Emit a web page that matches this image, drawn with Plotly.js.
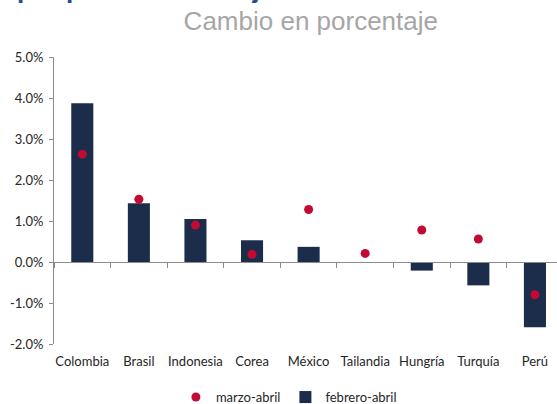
<!DOCTYPE html>
<html>
<head>
<meta charset="utf-8">
<script src="https://cdn.plot.ly/plotly-3.0.1.min.js"></script>
<style>html,body{margin:0;padding:0;background:#fff;}#chart{width:557px;height:404px;}</style>
</head>
<body>
<div id="chart"></div>
<script>
const categories = ["Colombia", "Brasil", "Indonesia", "Corea", "México", "Tailandia", "Hungría", "Turquía", "Perú"];
const febreroAbril = [3.87, 1.43, 1.05, 0.53, 0.37, 0.0, -0.21, -0.57, -1.59];
const marzoAbril = [2.63, 1.53, 0.90, 0.19, 1.28, 0.21, 0.78, 0.56, -0.80];
const yTickVals = [-2, -1, 0, 1, 2, 3, 4, 5];
const yTickText = ["-2.0%", "-1.0%", "0.0%", "1.0%", "2.0%", "3.0%", "4.0%", "5.0%"];

const font = "Lato, 'Open Sans', sans-serif";

const traces = [
  {
    type: "bar",
    name: "febrero-abril",
    x: categories,
    y: febreroAbril,
    xaxis: "x",
    yaxis: "y",
    width: 0.39,
    marker: {color: "#1B2D4A", line: {width: 0}},
    legendrank: 2,
    hoverinfo: "skip"
  },
  {
    type: "scatter",
    mode: "markers",
    name: "marzo-abril",
    x: categories,
    y: marzoAbril,
    xaxis: "x2",
    yaxis: "y",
    marker: {color: "#C20A32", size: 9},
    legendrank: 1,
    hoverinfo: "skip"
  }
];

const layout = {
  width: 557,
  height: 404,
  margin: {l: 54, r: 0, t: 57, b: 60, autoexpand: false},
  paper_bgcolor: "#ffffff",
  plot_bgcolor: "#ffffff",
  showlegend: true,
  font: {family: font, size: 13, color: "#262626"},
  title: {
    text: "Cambio en porcentaje",
    font: {family: "'Liberation Sans', Arial, sans-serif", size: 26, color: "#A6A6A6"},
    xref: "container", x: 0.558, xanchor: "center",
    yref: "container", y: 0.948, yanchor: "middle"
  },
  xaxis: {
    type: "category",
    range: [-0.5, 8.39],
    showline: false,
    ticks: "",
    showgrid: false,
    zeroline: false,
    tickfont: {family: font, size: 13, color: "#262626"},
    ticklabelstandoff: 8,
    fixedrange: true
  },
  xaxis2: {
    type: "category",
    matches: "x",
    overlaying: "x",
    anchor: "free",
    position: 2 / 7,
    showline: true,
    linecolor: "#8C8C8C",
    linewidth: 1,
    ticks: "outside",
    tickson: "boundaries",
    ticklen: 5,
    tickcolor: "#8C8C8C",
    showticklabels: false,
    showgrid: false,
    zeroline: false
  },
  yaxis: {
    range: [-2, 5],
    tickvals: yTickVals,
    ticktext: yTickText,
    showline: true,
    linecolor: "#8C8C8C",
    linewidth: 1,
    ticks: "outside",
    ticklen: 4,
    tickcolor: "#8C8C8C",
    showgrid: false,
    zeroline: false,
    tickfont: {family: font, size: 13, color: "#262626"},
    ticklabelstandoff: 3,
    fixedrange: true
  },
  legend: {
    orientation: "h",
    x: 0.467, xanchor: "center",
    y: -0.185, yanchor: "middle",
    font: {family: font, size: 13, color: "#262626"},
    itemwidth: 30,
    bgcolor: "rgba(0,0,0,0)"
  },
  annotations: [
    {
      text: "<b>por parte de extranjeros en los mercados</b>",
      xref: "paper", yref: "paper",
      x: -0.0775, xanchor: "left",
      y: 1.238, yanchor: "middle",
      showarrow: false,
      font: {family: "'Liberation Sans', Arial, sans-serif", size: 26, color: "#1F4E8C"}
    }
  ]
};

Plotly.newPlot("chart", traces, layout, {displayModeBar: false, staticPlot: true});
</script>
</body>
</html>
